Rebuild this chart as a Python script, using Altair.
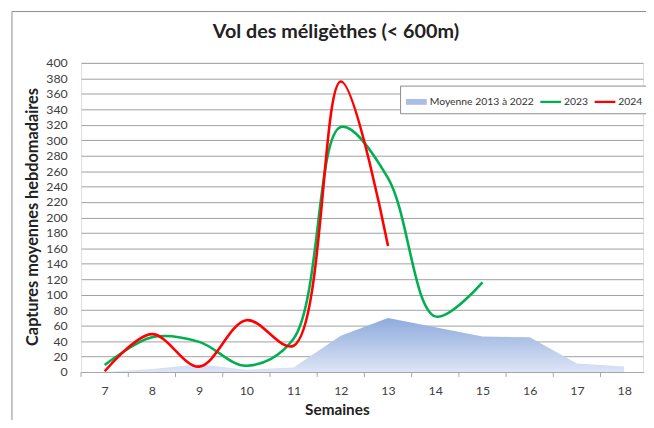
import altair as alt
import pandas as pd

# ---- data ----
weeks_all = [7, 8, 9, 10, 11, 12, 13, 14, 15, 16, 17, 18]
moyenne = [0, 4, 10, 3, 6, 47, 70, 58, 46, 45, 11, 7]
weeks_2023 = [7, 8, 9, 10, 11, 12, 13, 14, 15]
v2023 = [9, 45, 39, 8, 43, 317, 251, 72, 116]
weeks_2024 = [7, 8, 9, 10, 11, 12, 13]
v2024 = [1, 49, 7, 67, 34, 376, 163]
series_names = ["Moyenne 2013 à 2022", "2023", "2024"]
series_colors = ["#a9bde6", "#00b050", "#ff0000"]
x_ticks = weeks_all
y_ticks = list(range(0, 401, 20))
boundaries = [6.5, 7.5, 8.5, 9.5, 10.5, 11.5, 12.5, 13.5, 14.5, 15.5, 16.5, 17.5]
chart_title = "Vol des méligèthes (< 600m)"

FONT = "Lato"
W, H = 569, 313

df_avg = pd.DataFrame({"semaine": weeks_all, "val": moyenne})
df_23 = pd.DataFrame({"semaine": weeks_2023, "val": v2023})
df_24 = pd.DataFrame({"semaine": weeks_2024, "val": v2024})
df_leg = pd.DataFrame({"serie": series_names})
df_b = pd.DataFrame({"b": boundaries})
df_one = pd.DataFrame({"t": [chart_title]})

xscale = alt.Scale(domain=[6.5, 18.4], nice=False, zero=False)
yscale = alt.Scale(domain=[0, 400], nice=False)

x_axis = alt.Axis(values=x_ticks, format="d", grid=False, ticks=False,
                  domain=True, domainColor="#a6a6a6", labelPadding=13,
                  labelFontSize=12.5, labelColor="#404040", labelFont=FONT,
                  labelOverlap=False,
                  title="Semaines", titleFont=FONT, titleFontSize=15.5,
                  titleFontWeight="bold", titleColor="#222222",
                  titleX=259, titleY=38, titleAlign="center", titleBaseline="middle")
y_axis = alt.Axis(values=y_ticks, grid=True, gridColor="#a0a0a0", ticks=False,
                  domain=False, labelPadding=14, labelFontSize=12.5,
                  labelColor="#404040", labelFont=FONT, labelOverlap=False,
                  title="Captures moyennes hebdomadaires", titleFont=FONT,
                  titleFontSize=16.5, titleFontWeight="bold", titleColor="#222222",
                  titleX=-49, titleY=H / 2 - 1, titleAngle=-90,
                  titleAlign="center", titleBaseline="middle")

x_enc = alt.X("semaine:Q", scale=xscale, axis=x_axis)
y_enc = alt.Y("val:Q", scale=yscale, axis=y_axis)

frame = alt.Chart(df_one).mark_rect(filled=False, stroke="#8c8c8c", strokeWidth=1).encode(
    x=alt.value(-70), x2=alt.value(W + 40), y=alt.value(-52), y2=alt.value(H + 80)
)

title = alt.Chart(df_one).mark_text(
    font=FONT, fontSize=20, fontWeight="bold", color="#222222",
    align="center", baseline="middle",
).encode(text="t:N", x=alt.value(258), y=alt.value(-31))

area = alt.Chart(df_avg).mark_area(
    color=alt.Gradient(
        gradient="linear",
        stops=[alt.GradientStop(color="#8eaadd", offset=0),
               alt.GradientStop(color="#dde5f5", offset=1)],
        x1=1, x2=1, y1=0, y2=1,
    ),
    line=False,
).encode(x=x_enc, y=y_enc)

ticks = alt.Chart(df_b).mark_rule(color="#a6a6a6", strokeWidth=1).encode(
    x=alt.X("b:Q", scale=xscale), y=alt.value(H), y2=alt.value(H + 5)
)

line23 = alt.Chart(df_23).mark_line(
    interpolate="catmull-rom", color="#00b050", strokeWidth=2.6
).encode(x=x_enc, y=y_enc)

line24 = alt.Chart(df_24).mark_line(
    interpolate="catmull-rom", color="#ff0000", strokeWidth=2.6
).encode(x=x_enc, y=y_enc)

rect_path = "M-1,-0.28H1V0.28H-1Z"
line_path = "M-1,-0.11H1V0.11H-1Z"
leg_common = dict(
    title=None, orient="none", legendX=323, legendY=23, direction="horizontal",
    columns=3, padding=6, strokeColor="#8c8c8c", fillColor="white",
    symbolSize=441, symbolStrokeWidth=0, symbolOpacity=1,
    labelFont=FONT, labelFontSize=10.5, labelColor="#333333",
    columnPadding=6, labelOffset=3,
)
legend_layer = alt.Chart(df_leg).mark_point(filled=True, clip=True, size=1).encode(
    x=alt.value(-2000), y=alt.value(-2000),
    color=alt.Color("serie:N", scale=alt.Scale(domain=series_names, range=series_colors),
                    legend=alt.Legend(**leg_common)),
    shape=alt.Shape("serie:N", scale=alt.Scale(domain=series_names,
                                               range=[rect_path, line_path, line_path]),
                    legend=alt.Legend(**leg_common)),
)

chart = alt.layer(frame, area, ticks, line23, line24, title, legend_layer).properties(
    width=W, height=H,
    autosize=alt.AutoSizeParams(type="none"),
    padding={"left": 74, "top": 53, "right": 3, "bottom": 46},
).configure_view(stroke=None).configure(background="white")

chart.save("out.html", embed_options={"renderer": "svg", "actions": False})
